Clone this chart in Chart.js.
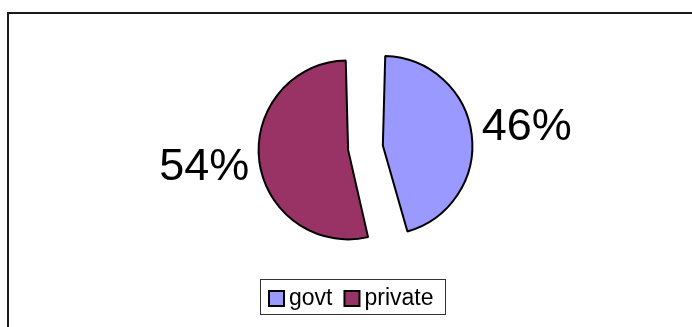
<!DOCTYPE html>
<html>
<head>
<meta charset="utf-8">
<script src="https://cdn.jsdelivr.net/npm/chart.js@4/dist/chart.umd.min.js"></script>
<style>
  html, body { margin: 0; padding: 0; background: #fff; }
  #wrap { width: 692px; height: 327px; position: relative; }
</style>
</head>
<body>
<div id="wrap"><canvas id="chart" width="692" height="327"></canvas></div>
<script>
const categorias = ["govt", "private"];
const porcentajes = [46, 54];
const colores = ["#9999FF", "#993366"];
// separación de cada sector (chart.js desplaza offset/4 y agranda el radio según el ángulo)
const separacion = [80, 60];

// marco exterior de la hoja
const marco = {
    id: "marco",
    beforeDraw(chart) {
        const ctx = chart.ctx;
        ctx.save();
        ctx.strokeStyle = "#1a1a1a";
        ctx.lineWidth = 2;
        ctx.strokeRect(8, 13, 700, 330);
        ctx.restore();
    }
};

// etiquetas de porcentaje fuera de cada sector
const etiquetas = {
    id: "etiquetas",
    afterDatasetsDraw(chart) {
        const ctx = chart.ctx;
        const meta = chart.getDatasetMeta(0);
        ctx.save();
        ctx.font = "45px 'Liberation Sans', Arial, sans-serif";
        ctx.fillStyle = "#000";
        ctx.textAlign = "center";
        ctx.textBaseline = "middle";
        meta.data.forEach((arco, i) => {
            const p = arco.getProps(["x", "y", "startAngle", "endAngle"], true);
            const medio = (p.startAngle + p.endAngle) / 2;
            const dist = arco.options.offset / 4 + 145;
            const x = p.x + Math.cos(medio) * dist;
            const y = p.y + Math.sin(medio) * dist;
            ctx.fillText(porcentajes[i] + "%", x, y);
        });
        ctx.restore();
    }
};

// leyenda con recuadro, al estilo de la hoja de cálculo
const leyenda = {
    id: "leyenda",
    afterDraw(chart) {
        const ctx = chart.ctx;
        ctx.save();
        ctx.strokeStyle = "#333";
        ctx.lineWidth = 1;
        ctx.strokeRect(260.5, 279.5, 185, 35);
        ctx.font = "23px 'Liberation Sans', Arial, sans-serif";
        ctx.textBaseline = "middle";
        let x = 269;
        categorias.forEach((nombre, i) => {
            ctx.fillStyle = colores[i];
            ctx.fillRect(x, 291, 15, 15);
            ctx.strokeStyle = "#000";
            ctx.lineWidth = 2;
            ctx.strokeRect(x, 291, 15, 15);
            ctx.fillStyle = "#000";
            ctx.fillText(nombre, x + 20, 299);
            x += 20 + ctx.measureText(nombre).width + 12;
        });
        ctx.restore();
    }
};

new Chart(document.getElementById("chart").getContext("2d"), {
    type: "pie",
    data: {
        labels: categorias,
        datasets: [{
            data: porcentajes,
            backgroundColor: colores,
            borderColor: "#000",
            borderWidth: 2,
            offset: separacion
        }]
    },
    options: {
        responsive: false,
        animation: false,
        radius: 74.5,
        layout: { padding: { left: 34, right: 0, top: 0, bottom: 31 } },
        plugins: {
            legend: { display: false },
            tooltip: { enabled: false }
        }
    },
    plugins: [marco, etiquetas, leyenda]
});
</script>
</body>
</html>
